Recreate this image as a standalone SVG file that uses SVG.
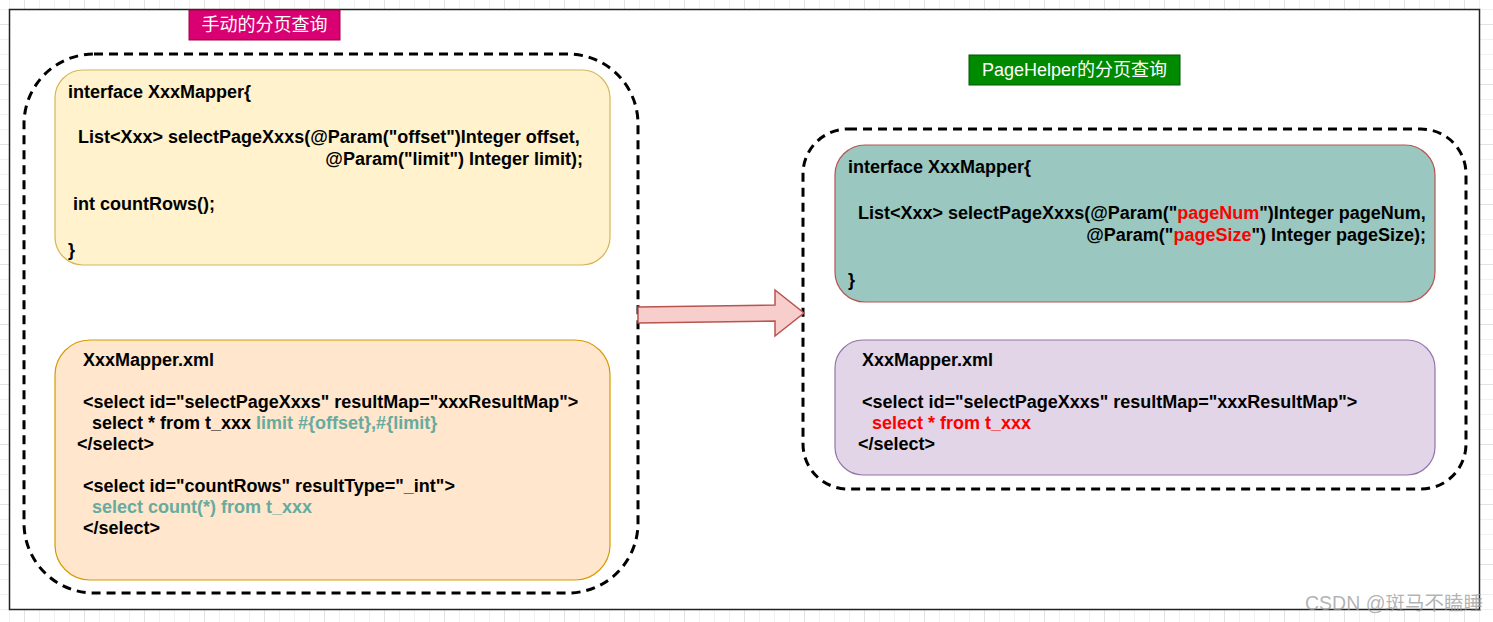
<svg xmlns="http://www.w3.org/2000/svg" width="1493" height="622" viewBox="0 0 1493 622">
<style>
.code{font-family:"Liberation Sans",Arial,"Noto Sans CJK SC",sans-serif;font-size:18px;font-weight:bold;fill:#000}
.g{fill:#67AB9F}
.r{fill:#FF0000}
.title{font-family:"Liberation Sans",Arial,"Noto Sans CJK SC",sans-serif;font-size:18px;fill:#fff;text-anchor:middle}
.dash{fill:none;stroke:#000;stroke-width:3;stroke-dasharray:9 6}
</style>
<defs>
<pattern id="grid" x="24" y="24" width="60" height="60" patternUnits="userSpaceOnUse">
<path d="M15.5 0V60M30.5 0V60M45.5 0V60M0 15.5H60M0 30.5H60M0 45.5H60" stroke="#f0f0f0" stroke-width="1" fill="none"/>
<path d="M0.5 0V60M0 0.5H60" stroke="#e2e2e2" stroke-width="1" fill="none"/>
</pattern>
</defs>
<rect x="0" y="0" width="1493" height="622" fill="#fff"/>
<rect x="0" y="0" width="1493" height="622" fill="url(#grid)"/>
<rect id="page" x="9.5" y="9.5" width="1470" height="600" fill="#fff" stroke="#222" stroke-width="1.5"/>

<g id="title-manual">
<rect x="189" y="10" width="151" height="30" fill="#d80073" stroke="#a50040"/>
<text class="title" x="264.5" y="31">手动的分页查询</text>
</g>

<g id="container-left">
<rect class="dash" x="24" y="54" width="614" height="539" rx="70" ry="70"/>
</g>

<g id="mapper-interface-left">
<rect x="55" y="70" width="555" height="195" rx="28" ry="28" fill="#fff2cc" stroke="#d6b656" stroke-width="1.2"/>
<text class="code" x="68" y="98">interface XxxMapper{</text>
<text class="code" x="78" y="143">List&lt;Xxx&gt; selectPageXxxs(@Param("offset")Integer offset,</text>
<text class="code" x="583" y="165" text-anchor="end">@Param("limit") Integer limit);</text>
<text class="code" x="73" y="210">int countRows();</text>
<text class="code" x="68" y="256">}</text>
</g>

<g id="mapper-xml-left">
<rect x="55" y="340" width="555" height="240" rx="35" ry="35" fill="#ffe6cc" stroke="#d79b00" stroke-width="1.2"/>
<text class="code" x="83" y="366">XxxMapper.xml</text>
<text class="code" x="83" y="408">&lt;select id="selectPageXxxs" resultMap="xxxResultMap"&gt;</text>
<text class="code" x="92" y="429">select * from t_xxx <tspan class="g">limit #{offset},#{limit}</tspan></text>
<text class="code" x="77" y="450">&lt;/select&gt;</text>
<text class="code" x="83" y="492">&lt;select id="countRows" resultType="_int"&gt;</text>
<text class="code g" x="92" y="513">select count(*) from t_xxx</text>
<text class="code" x="83" y="534">&lt;/select&gt;</text>
</g>

<g id="title-pagehelper">
<rect x="969" y="55" width="211" height="30" fill="#008a00" stroke="#005700"/>
<text class="title" x="1074.5" y="76">PageHelper的分页查询</text>
</g>

<g id="container-right">
<rect class="dash" x="803" y="129" width="663" height="360" rx="45" ry="45"/>
</g>

<g id="mapper-interface-right">
<rect x="835" y="145" width="600" height="157" rx="30" ry="30" fill="#9ac7bf" stroke="#b85450" stroke-width="1.2"/>
<text class="code" x="848" y="173">interface XxxMapper{</text>
<text class="code" x="858" y="219">List&lt;Xxx&gt; selectPageXxxs(@Param("<tspan class="r">pageNum</tspan>")Integer pageNum,</text>
<text class="code" x="1426" y="241" text-anchor="end">@Param("<tspan class="r">pageSize</tspan>") Integer pageSize);</text>
<text class="code" x="848" y="286">}</text>
</g>

<g id="mapper-xml-right">
<rect x="835" y="340" width="600" height="135" rx="28" ry="28" fill="#e1d5e7" stroke="#9673a6" stroke-width="1.2"/>
<text class="code" x="862" y="366">XxxMapper.xml</text>
<text class="code" x="862" y="408">&lt;select id="selectPageXxxs" resultMap="xxxResultMap"&gt;</text>
<text class="code r" x="872" y="429">select * from t_xxx</text>
<text class="code" x="858" y="450">&lt;/select&gt;</text>
</g>

<g id="connectors">
<polygon points="638,307 775,305 775,290 804,313 775,336 775,321 638,323" fill="#f8cecc" stroke="#b85450" stroke-width="1.5" stroke-linejoin="miter"/>
</g>

<text x="1305" y="610" font-family="'Liberation Sans',Arial,'Noto Sans CJK SC',sans-serif" font-size="19.5" fill="#9a9a9a" fill-opacity="0.75">CSDN @斑马不瞌睡</text>
</svg>
